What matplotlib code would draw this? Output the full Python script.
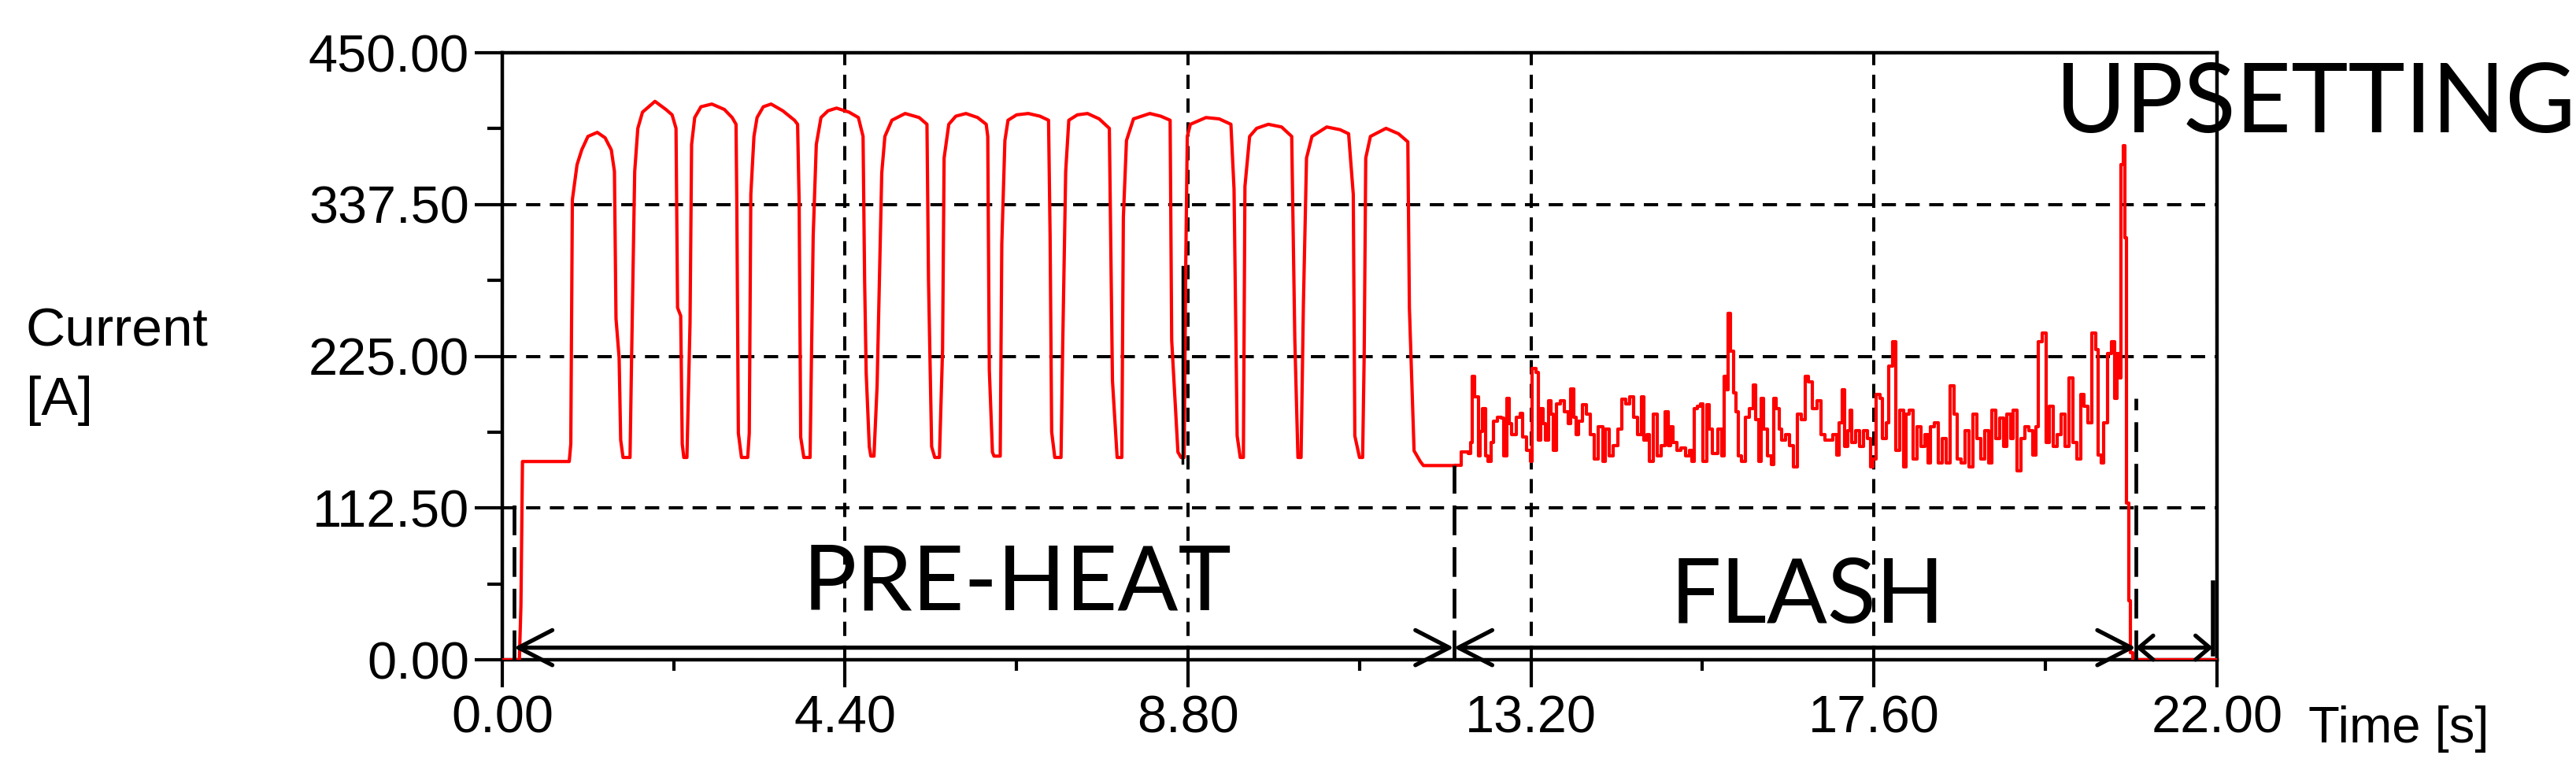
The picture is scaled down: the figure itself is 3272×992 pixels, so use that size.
import numpy as np
import matplotlib.pyplot as plt
from matplotlib.ticker import MultipleLocator, FormatStrFormatter

# current trace (time [s], current [A])
preheat_t = [0, 0.22, 0.24, 0.26, 0.86, 0.88, 0.90, 0.96, 1.02, 1.10, 1.22, 1.32, 1.40, 1.44, 1.46, 1.50,
             1.52, 1.55, 1.64, 1.66, 1.70, 1.74, 1.80, 1.96, 2.10, 2.18, 2.23, 2.25, 2.29, 2.31, 2.33, 2.37,
             2.41, 2.43, 2.47, 2.55, 2.69, 2.85, 2.95, 3.00, 3.01, 3.03, 3.07, 3.15, 3.17, 3.19, 3.23, 3.27,
             3.35, 3.45, 3.60, 3.75, 3.79, 3.81, 3.83, 3.87, 3.95, 3.99, 4.03, 4.09, 4.18, 4.29, 4.45, 4.57,
             4.63, 4.65, 4.67, 4.71, 4.73, 4.77, 4.81, 4.87, 4.91, 5.00, 5.17, 5.35, 5.45, 5.47, 5.51, 5.55,
             5.61, 5.65, 5.67, 5.73, 5.82, 5.95, 6.10, 6.21, 6.23, 6.25, 6.29, 6.31, 6.39, 6.41, 6.45, 6.49,
             6.60, 6.75, 6.90, 7.01, 7.03, 7.05, 7.09, 7.17, 7.19, 7.23, 7.27, 7.38, 7.51, 7.66, 7.79, 7.83,
             7.89, 7.95, 7.97, 8.01, 8.10, 8.31, 8.45, 8.57, 8.59, 8.67, 8.71, 8.75, 8.77, 8.79, 8.83, 9.03,
             9.20, 9.35, 9.39, 9.43, 9.47, 9.51, 9.53, 9.59, 9.68, 9.83, 10.00, 10.13, 10.17, 10.21, 10.25,
             10.28, 10.32, 10.39, 10.58, 10.75, 10.86, 10.92, 10.94, 11.00, 11.04, 11.06, 11.08, 11.14,
             11.34, 11.50, 11.62, 11.64, 11.70, 11.78, 11.82, 12.23]
preheat_i = [0, 0, 40, 147, 147, 160, 341, 367, 378, 388, 391, 387, 378, 362, 253, 224,
             163, 150, 150, 224, 362, 394, 406, 414, 408, 404, 394, 261, 255, 160, 150, 150,
             250, 382, 402, 410, 412, 408, 402, 397, 340, 168, 150, 150, 168, 345, 388, 402,
             410, 412, 407, 400, 397, 339, 165, 150, 150, 314, 382, 402, 407, 409, 406, 402,
             388, 281, 213, 158, 151, 151, 203, 361, 388, 400, 405, 402, 397, 281, 158, 150,
             150, 230, 372, 397, 403, 405, 402, 397, 388, 215, 154, 151, 151, 308, 385, 400,
             404, 405, 403, 400, 314, 169, 150, 150, 227, 362, 400, 404, 405, 401, 394, 207,
             150, 150, 328, 385, 401, 405, 403, 400, 237, 154, 150, 150, 291, 388, 397, 402,
             401, 397, 349, 166, 150, 150, 351, 388, 394, 397, 395, 388, 237, 150, 150,
             263, 372, 388, 395, 393, 390, 345, 166, 150, 150, 226, 372, 388,
             394, 390, 384, 261, 155, 147, 144, 144]

flash_t = [12.30, 12.40, 12.43, 12.45, 12.48, 12.53, 12.55, 12.58, 12.62, 12.65, 12.69, 12.72, 12.77,
           12.82, 12.85, 12.89, 12.92, 12.95, 13.01, 13.06, 13.09, 13.14, 13.19, 13.21, 13.26, 13.29,
           13.33, 13.36, 13.39, 13.43, 13.46, 13.49, 13.53, 13.58, 13.63, 13.68, 13.71, 13.75, 13.78,
           13.81, 13.86, 13.91, 13.96, 14.01, 14.06, 14.12, 14.15, 14.20, 14.25, 14.32, 14.37, 14.42,
           14.47, 14.52, 14.57, 14.62, 14.65, 14.69, 14.72, 14.77, 14.82, 14.87, 14.92, 14.96, 14.99,
           15.02, 15.07, 15.12, 15.18, 15.23, 15.26, 15.29, 15.34, 15.38, 15.41, 15.46, 15.49, 15.53,
           15.60, 15.65, 15.68, 15.71, 15.73, 15.76, 15.80, 15.83, 15.86, 15.90, 15.95, 16.00, 16.05,
           16.08, 16.12, 16.15, 16.18, 16.23, 16.28, 16.32, 16.35, 16.39, 16.42, 16.47, 16.52, 16.57,
           16.62, 16.67, 16.72, 16.76, 16.81, 16.87, 16.92, 16.97,
           17.07, 17.12, 17.15, 17.19, 17.22, 17.26, 17.29, 17.32, 17.37, 17.42, 17.47, 17.52, 17.56,
           17.59, 17.63, 17.68, 17.71, 17.76, 17.79, 17.84, 17.88, 17.93, 17.98, 18.01, 18.05, 18.10,
           18.15, 18.20, 18.25, 18.30, 18.33, 18.38, 18.43, 18.48, 18.53, 18.58, 18.63, 18.67, 18.72,
           18.77, 18.82, 18.87, 18.92, 18.97, 19.02, 19.07, 19.11, 19.16, 19.21, 19.26, 19.31, 19.36,
           19.39, 19.44, 19.49, 19.54, 19.59, 19.64, 19.68, 19.71, 19.76, 19.81, 19.85, 19.90, 19.95,
           20.00, 20.05, 20.10, 20.15, 20.20, 20.25, 20.30, 20.35, 20.40, 20.45, 20.48, 20.52, 20.55,
           20.60, 20.65, 20.69, 20.72, 20.75]
flash_i = [154, 153, 161, 210, 195, 151, 169, 186, 151, 147, 161, 177, 180,
           179, 151, 194, 175, 167, 180, 183, 165, 155, 147, 216, 213, 163,
           186, 175, 163, 192, 182, 155, 190, 192, 184, 175, 201, 180, 167,
           177, 189, 182, 167, 149, 173, 147, 171, 151, 159, 171, 193, 190,
           195, 180, 167, 195, 163, 167, 147, 182, 151, 159, 184, 159, 173,
           161, 155, 157, 151, 155, 147, 186, 188, 190, 147, 189, 171, 153,
           171, 151, 210, 200, 257, 229, 198, 184, 151, 147, 180, 186, 204,
           178, 147, 194, 171, 151, 145, 194, 186, 171, 163, 167, 159, 143,
           182, 178, 210, 206, 186, 192, 167, 163,
           167, 152, 176, 200, 158, 170, 185, 161, 170, 158, 170, 164, 143,
           149, 197, 194, 164, 176, 218, 236, 155, 185, 143, 182, 185, 149,
           173, 158, 167, 146, 173, 176, 146, 164, 146, 203, 182, 149, 146,
           170, 143, 182, 164, 149, 170, 146, 185, 164, 179, 158, 182, 164,
           185, 140, 164, 173, 170, 152, 173, 236, 242, 161, 188, 158, 167,
           182, 158, 209, 161, 149, 197, 188, 176, 242, 230, 152, 146, 176,
           227, 236, 194, 227, 209]

upset_t = [20.77, 20.80, 20.82, 20.84, 20.87, 20.89, 20.92, 22.0]
upset_i = [367, 381, 313, 116, 44, 5, 0, 0]

x_ticks = [0, 4.4, 8.8, 13.2, 17.6, 22.0]
y_ticks = [0, 112.5, 225, 337.5, 450]

# phase boundaries [s] and how high the dashed markers reach [A]
bounds = [0.15, 12.21, 20.96, 21.95]
bound_tops = [116, 144, 194]

# the flash part is sample-and-hold looking, so it gets drawn as steps
t2 = np.array(preheat_t[-1:] + flash_t + upset_t)
cur2 = np.array(preheat_i[-1:] + flash_i + upset_i)

fig = plt.figure(figsize=(32.73, 9.92), dpi=100)
ax = fig.add_axes([0.1949, 0.1552, 0.6654, 0.7772])

ax.plot(preheat_t, preheat_i, color='#ff0000', lw=3, zorder=3)
ax.plot(t2, cur2, color='#ff0000', lw=3, drawstyle='steps-post', zorder=3)

ax.set_xlim(0, 22)
ax.set_ylim(0, 450)
ax.set_xticks(x_ticks)
ax.set_yticks(y_ticks)
ax.xaxis.set_minor_locator(MultipleLocator(2.2))
ax.yaxis.set_minor_locator(MultipleLocator(56.25))
ax.xaxis.set_major_formatter(FormatStrFormatter('%.2f'))
ax.yaxis.set_major_formatter(FormatStrFormatter('%.2f'))
ax.tick_params(which='major', direction='out', length=25, width=3, labelsize=48)
ax.tick_params(axis='x', which='major', pad=7)
ax.tick_params(axis='y', which='major', pad=5)
ax.tick_params(axis='x', which='minor', direction='out', length=10, width=3)
ax.tick_params(axis='y', which='minor', direction='out', length=14, width=3)
for lab in ax.get_xticklabels() + ax.get_yticklabels():
    lab.set_family('Liberation Sans')
for sp in ax.spines.values():
    sp.set_linewidth(3.2)
ax.grid(which='major', color='k', ls=(0, (4.5, 3)), lw=2.9)

# phase markers
for x, top in zip(bounds[:3], bound_tops):
    ax.plot([x, x], [0, top], color='k', lw=3.4, ls=(0, (8, 3.2)), zorder=4)
ax.plot([bounds[3], bounds[3]], [4, 57], color='k', lw=4, clip_on=False, zorder=4)
ax.plot([8.73, 8.73], [146, 291], color='k', lw=2.5, zorder=4)

big = dict(arrowstyle='<->,head_length=1.55,head_width=0.8', lw=3.8, color='k',
           shrinkA=0, shrinkB=0, mutation_scale=20)
small = dict(arrowstyle='<->,head_length=0.65,head_width=0.55', lw=3.8, color='k',
             shrinkA=0, shrinkB=0, mutation_scale=20)
ax.annotate('', xy=(bounds[0], 9), xytext=(bounds[1], 9), arrowprops=big)
ax.annotate('', xy=(bounds[1], 9), xytext=(bounds[2], 9), arrowprops=big)
ax.annotate('', xy=(bounds[2], 9), xytext=(bounds[3], 9), arrowprops=small)

ax.text(6.61, 37, 'PRE-HEAT', fontsize=82, family='Lato', ha='center', va='baseline', zorder=5)
ax.text(16.75, 27.5, 'FLASH', fontsize=82, family='Lato', ha='center', va='baseline', zorder=5)
ax.text(23.27, 391, 'UPSETTING', fontsize=88, family='Lato', ha='center', va='baseline',
        clip_on=False, zorder=5)

ax.text(23.17, -61.3, 'Time [s]', fontsize=47, family='Liberation Sans', va='baseline',
        clip_on=False)
fig.text(33 / 3273, 1 - 440 / 992, 'Current', fontsize=50, family='Liberation Sans', va='baseline')
fig.text(33 / 3273, 1 - 527 / 992, '[A]', fontsize=50, family='Liberation Sans', va='baseline')

fig.savefig('out.png', dpi=100)
